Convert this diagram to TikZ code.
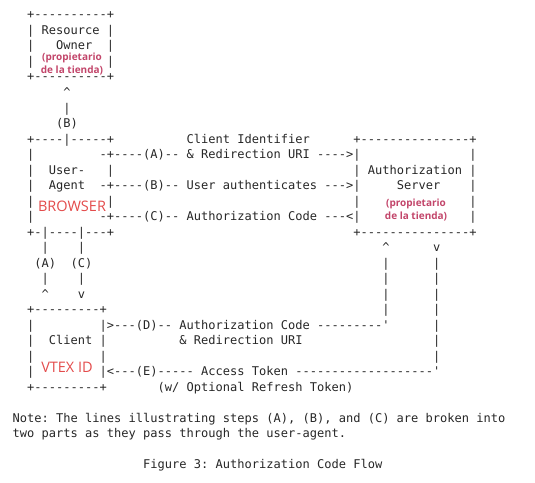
\documentclass[tikz,border=0pt]{standalone}
\usepackage{fontspec}
\setmonofont{DejaVu Sans Mono}
\newfontfamily\tagfont{Open Sans}
\usepackage{tikz}
\usepackage{xcolor}
\definecolor{ink}{HTML}{262626}
\definecolor{brand}{HTML}{E34B4B}
\definecolor{owner}{HTML}{C2456A}

\begin{document}
\begin{tikzpicture}[x=7.25pt,y=-15.5pt, ascii/.style={anchor=base west,inner sep=0pt,text=ink,font=\ttfamily\fontsize{12.04pt}{15.5pt}\selectfont}, tag/.style={inner sep=0pt,text=brand,font=\tagfont\fontsize{14.5pt}{16pt}\selectfont}, ownertag/.style={inner sep=0pt,text=owner,align=center,font=\tagfont\bfseries\fontsize{10pt}{13pt}\selectfont}]
  \useasboundingbox (1.2897,-1.2258) rectangle ++(73.793,31.161);
  \foreach \col/\row/\txt in {5/0/{+----------+}, 5/1/{| Resource |}, 5/2/|, 9/2/Owner, 16/2/|, 5/3/|, 16/3/|, 5/4/{+----------+},
    10/5/\textasciicircum, 10/6/|, 9/7/(B),
    5/8/{+----|-----+}, 27/8/{Client Identifier}, 50/8/{+---------------+},
    5/9/|, 15/9/{-+----(A)-- \& Redirection URI ---->|}, 66/9/|,
    5/10/|, 8/10/User-, 16/10/|, 50/10/{| Authorization |},
    5/11/|, 8/11/Agent, 15/11/{-+----(B)-- User authenticates --->|}, 56/11/Server, 66/11/|,
    5/12/|, 16/12/|, 50/12/|, 66/12/|,
    5/13/|, 15/13/{-+----(C)-- Authorization Code ---<|}, 66/13/|,
    5/14/{+-|----|---+}, 50/14/{+---------------+},
    7/15/|, 12/15/|, 54/15/\textasciicircum, 61/15/v,
    6/16/(A), 11/16/(C), 54/16/|, 61/16/|,
    7/17/|, 12/17/|, 54/17/|, 61/17/|,
    7/18/\textasciicircum, 12/18/v, 54/18/|, 61/18/|,
    5/19/{+---------+}, 54/19/|, 61/19/|,
    5/20/|, 15/20/{|>---(D)-- Authorization Code ---------'}, 61/20/|,
    5/21/|, 8/21/Client, 15/21/|, 26/21/{\& Redirection URI}, 61/21/|,
    5/22/|, 15/22/|, 61/22/|,
    5/23/|, 15/23/{|<---(E)----- Access Token -------------------'},
    5/24/{+---------+}, 23/24/{(w/ Optional Refresh Token)}}
    {\node[ascii] (a\row-\col) at (\col,\row) {\txt};}
  \node[ascii] (note1) at (3,26) {Note: The lines illustrating steps (A), (B), and (C) are broken into};
  \node[ascii] (note2) at (3,27) {two parts as they pass through the user-agent.};
  \node[ascii] (caption) at (21,29) {Figure 3: Authorization Code Flow};
  \node[ownertag] (ownerA) at (11.22,2.88) {(propietario\\de la tienda)};
  \node[ownertag] (ownerB) at (58.67,12.35) {(propietario\\de la tienda)};
  \node[tag] (browser) at (11.22,12.06) {BROWSER};
  \node[tag] (vtexid) at (10.53,22.45) {VTEX ID};
\end{tikzpicture}
\end{document}
